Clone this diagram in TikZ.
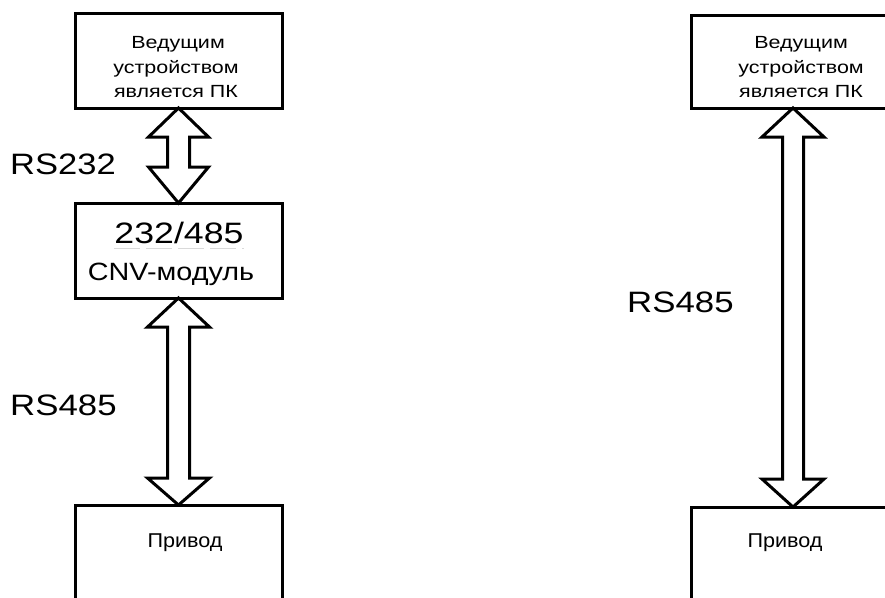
\documentclass[tikz,border=0pt]{standalone}
\usepackage{fontspec}
\setmainfont{Liberation Sans}
\usetikzlibrary{calc}
\newcommand\hstretch[2]{\scalebox{#1}[1]{#2}}
\begin{document}
\begin{tikzpicture}[x=1pt,y=-1pt,
  box/.style={draw, line width=3pt, outer sep=0pt, inner sep=0pt},
  dbl/.style={draw, line width=3pt, line join=miter, fill=white},
  small/.style={font=\fontsize{17.6}{24.5}\selectfont, anchor=base, inner sep=0pt},
  big/.style={font=\fontsize{29.5}{32}\selectfont, inner sep=0pt},
  mid/.style={font=\fontsize{25}{28}\selectfont, inner sep=0pt, anchor=base},
  drv/.style={font=\fontsize{20}{24}\selectfont, inner sep=0pt, anchor=base}
]
\useasboundingbox (0,0) rectangle (885,597);
\clip (0,0) rectangle (885,597);

% left column boxes
\node[box, minimum width=207pt, minimum height=95pt] (pcL) at (178.5,60.5) {};
\node[box, minimum width=207pt, minimum height=95pt] (cnv) at (178.5,250.5) {};
\node[box, minimum width=207pt, minimum height=120pt] (drvL) at (178.5,565) {};

% right column boxes
\node[box, minimum width=204pt, minimum height=93pt] (pcR) at (793,61.5) {};
\node[box, minimum width=204pt, minimum height=120pt] (drvR) at (793,567) {};

% texts
\node[small] (tL1) at (178,48.5) {\hstretch{1.22}{Ведущим}};
\node[small] (tL2) at (176,73) {\hstretch{1.22}{устройством}};
\node[small] (tL3) at (176,97.5) {\hstretch{1.22}{является ПК}};
\node[small] (tR1) at (801,48.5) {\hstretch{1.22}{Ведущим}};
\node[small] (tR2) at (801,73) {\hstretch{1.22}{устройством}};
\node[small] (tR3) at (801,97.5) {\hstretch{1.22}{является ПК}};
\node[big, anchor=base west] (rs232) at (10,174) {\hstretch{1.17}{RS232}};
\node[big, anchor=base west] (rs485L) at (10,415) {\hstretch{1.18}{RS485}};
\node[big, anchor=base west] (rs485R) at (627,312) {\hstretch{1.18}{RS485}};
\node[big, anchor=base] (t232) at (179,243) {\hstretch{1.21}{232/485}};
\draw[black!15, line width=0.8pt, dash pattern=on 26pt off 6pt] ($(t232.base west)+(0,5)$) -- ($(t232.base east)+(0,5)$);
\node[mid] (tcnv) at (171,280) {\hstretch{1.15}{CNV-модуль}};
\node[drv] (dL) at (185,547) {\hstretch{1.08}{Привод}};
\node[drv] (dR) at (785,547) {\hstretch{1.08}{Привод}};

% double arrows
\draw[dbl] (pcL.south) -- ($(pcL.south)+(30,29)$) -- ($(pcL.south)+(11,29)$)
  -- ($(cnv.north)+(11,-36)$) -- ($(cnv.north)+(30,-36)$) -- (cnv.north)
  -- ($(cnv.north)+(-30,-36)$) -- ($(cnv.north)+(-11,-36)$)
  -- ($(pcL.south)+(-11,29)$) -- ($(pcL.south)+(-30,29)$) -- cycle;
\draw[dbl] (cnv.south) -- ($(cnv.south)+(31,29)$) -- ($(cnv.south)+(11,29)$)
  -- ($(drvL.north)+(11,-27)$) -- ($(drvL.north)+(31,-27)$) -- (drvL.north)
  -- ($(drvL.north)+(-31,-27)$) -- ($(drvL.north)+(-11,-27)$)
  -- ($(cnv.south)+(-11,29)$) -- ($(cnv.south)+(-31,29)$) -- cycle;
\draw[dbl] (pcR.south) -- ($(pcR.south)+(31,29)$) -- ($(pcR.south)+(10.5,29)$)
  -- ($(drvR.north)+(10.5,-28)$) -- ($(drvR.north)+(31,-28)$) -- (drvR.north)
  -- ($(drvR.north)+(-31,-28)$) -- ($(drvR.north)+(-10.5,-28)$)
  -- ($(pcR.south)+(-10.5,29)$) -- ($(pcR.south)+(-31,29)$) -- cycle;
\end{tikzpicture}
\end{document}
